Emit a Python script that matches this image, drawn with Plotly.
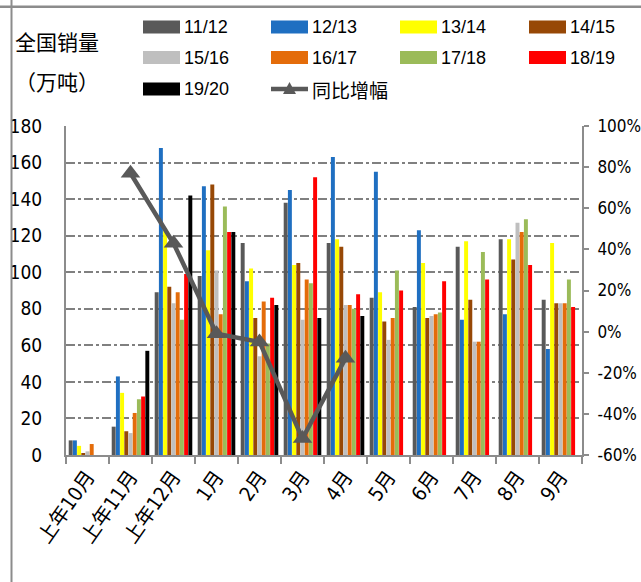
import plotly.graph_objects as go

# Monthly national sales (10k tonnes) by season, plus YoY change
months = ["上年10月", "上年11月", "上年12月", "1月", "2月", "3月",
          "4月", "5月", "6月", "7月", "8月", "9月"]

s_11_12 = [8, 15.5, 89, 98, 116, 138, 116, 86, 81, 114, 118, 85]
s_12_13 = [8, 43, 168, 147, 95, 145, 163, 155, 123, 74, 77, 58]
s_13_14 = [5, 34, 124, 112, 102, 104, 118, 89, 105, 117, 118, 116]
s_14_15 = [1, 13, 92, 148, 75, 105, 114, 73, 75, 85, 107, 83]
s_15_16 = [2, 12, 83, 101, 54, 74, 82, 63, 76, 62, 127, 83]
s_16_17 = [6, 23, 89, 77, 84, 96, 82, 75, 77, 62, 122, 83]
s_17_18 = [None, 30.5, 74, 136, 61, 94, 80, 101, 78, 111, 129, 96]
s_18_19 = [None, 32, 99, 122, 86, 152, 88, 90, 95, 96, 104, 81]
s_19_20 = [None, 57, 142, 122, 82, 75, 76, None, None, None, None, None]

yoy = [None, 0.77, 0.43, -0.01, -0.05, -0.52, -0.13, None, None, None, None, None]

season_names = ["11/12", "12/13", "13/14", "14/15", "15/16",
                "16/17", "17/18", "18/19", "19/20"]
season_values = [s_11_12, s_12_13, s_13_14, s_14_15, s_15_16,
                 s_16_17, s_17_18, s_18_19, s_19_20]
season_colors = ["#595959", "#1F6FC1", "#FFFF00", "#974806", "#BFBFBF",
                 "#E46C0A", "#9BBB59", "#FF0000", "#000000"]

left_ticks = [0, 20, 40, 60, 80, 100, 120, 140, 160, 180]
right_ticks = [-0.6, -0.4, -0.2, 0, 0.2, 0.4, 0.6, 0.8, 1.0]
right_labels = ["-60%", "-40%", "-20%", "0%", "20%", "40%", "60%", "80%", "100%"]

W, H = 641, 582
L, R, T, B = 66, 582, 126, 455
AXIS = "#8C8C8C"
LINE = "#595959"
NUM_FONT = ("DejaVu Sans Condensed, Liberation Sans Narrow, Liberation Sans, "
            "Noto Sans CJK SC, sans-serif")


def px(x):
    return (x - L) / (R - L)


def py(y):
    return (B - y) / (B - T)


fig = go.Figure()

for name, vals, color in zip(season_names, season_values, season_colors):
    fig.add_trace(go.Bar(x=months, y=vals, name=name, marker_color=color,
                         marker_line_width=0, showlegend=False))

fig.add_trace(go.Scatter(x=months, y=yoy, name="同比增幅", yaxis="y2",
                         mode="lines+markers",
                         line=dict(color=LINE, width=4.5),
                         marker=dict(symbol="triangle-up", size=17, color=LINE),
                         showlegend=False))

shapes = []
annotations = []

# Legend: four columns, three rows
col_x = [143, 271, 400, 529]
row_y = [27, 57.5, 89]
for i, (name, color) in enumerate(zip(season_names, season_colors)):
    cx = col_x[i % 4]
    cy = row_y[i // 4]
    shapes.append(dict(type="rect", xref="paper", yref="paper",
                       x0=px(cx), x1=px(cx + 37), y0=py(cy + 6.5), y1=py(cy - 6.5),
                       fillcolor=color, line=dict(width=0)))
    annotations.append(dict(text=name, xref="paper", yref="paper",
                            x=px(cx + 39), y=py(cy), xanchor="left", yanchor="middle",
                            showarrow=False,
                            font=dict(family="Liberation Sans, sans-serif", size=18,
                                      color="#000000")))

# Legend entry for the YoY line
lx, ly = col_x[1], row_y[2]
shapes.append(dict(type="line", xref="paper", yref="paper",
                   x0=px(lx), x1=px(lx + 37), y0=py(ly), y1=py(ly),
                   line=dict(color=LINE, width=4.5)))
mx = lx + 18.5
shapes.append(dict(type="path", xref="paper", yref="paper",
                   path=f"M{px(mx)},{py(ly - 7)} L{px(mx - 6.5)},{py(ly + 5)} "
                        f"L{px(mx + 6.5)},{py(ly + 5)} Z",
                   fillcolor=LINE, line=dict(width=0)))
annotations.append(dict(text="同比增幅", xref="paper", yref="paper",
                        x=px(lx + 39), y=py(ly), xanchor="left", yanchor="middle",
                        showarrow=False,
                        font=dict(family="Noto Sans CJK SC", size=19, color="#000000")))

# Axis title (units)
for text, ty in [("全国销量", 41), ("（万吨）", 81)]:
    annotations.append(dict(text=text, xref="paper", yref="paper",
                            x=px(13), y=py(ty), xanchor="left", yanchor="middle",
                            showarrow=False,
                            font=dict(family="Noto Sans CJK SC", size=21, color="#000000")))

# Frame lines along the top and left edges
shapes.append(dict(type="line", xref="paper", yref="paper",
                   x0=px(0), x1=px(W), y0=py(6.8), y1=py(6.8),
                   line=dict(color=AXIS, width=2.5)))
shapes.append(dict(type="line", xref="paper", yref="paper",
                   x0=px(11.5), x1=px(11.5), y0=py(0), y1=py(H),
                   line=dict(color=AXIS, width=2)))

fig.update_layout(
    width=W, height=H,
    margin=dict(l=L, r=W - R, t=T, b=H - B, pad=0, autoexpand=False),
    paper_bgcolor="white", plot_bgcolor="white",
    barmode="group", bargap=0.12, bargroupgap=0.06,
    shapes=shapes, annotations=annotations,
    showlegend=False,
    xaxis=dict(type="category", range=[-0.5, 11.5], automargin=False,
               showline=True, linecolor=AXIS, linewidth=2,
               ticks="outside", tickson="boundaries", ticklen=7, tickwidth=2,
               tickcolor=AXIS, tickangle=-55, showgrid=False,
               tickfont=dict(family=NUM_FONT, size=20, color="#000000")),
    yaxis=dict(range=[0, 180], tickvals=left_ticks, automargin=False,
               showline=True, linecolor=AXIS, linewidth=2, ticks="",
               showgrid=True, gridcolor="#808080", gridwidth=2.2,
               griddash="9px,3px,3px,3px", zeroline=False,
               ticklabelstandoff=18,
               tickfont=dict(family=NUM_FONT, size=19, color="#000000")),
    yaxis2=dict(range=[-0.6, 1.0], tickvals=right_ticks, ticktext=right_labels,
                overlaying="y", side="right", showgrid=False, zeroline=False,
                automargin=False,
                showline=True, linecolor=AXIS, linewidth=2,
                ticks="outside", ticklen=5, tickwidth=2, tickcolor=AXIS,
                ticklabelstandoff=5,
                tickfont=dict(family=NUM_FONT, size=17, color="#000000")),
)

fig.write_html("out.html")
